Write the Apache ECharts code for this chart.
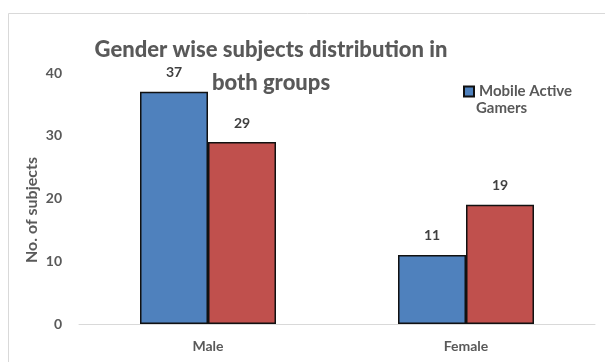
<!DOCTYPE html>
<html>
<head>
<meta charset="utf-8">
<script src="https://cdn.jsdelivr.net/npm/echarts@6/dist/echarts.min.js"></script>
<style>
  html, body { margin: 0; padding: 0; background: #fff; }
  #chart { width: 605px; height: 362px; }
</style>
</head>
<body>
<div id="chart"></div>
<script>
const categories = ['Male', 'Female'];
const gamers = [37, 11];
const nonGamers = [29, 19];
const yTicks = [0, 10, 20, 30, 40];

const chart = echarts.init(document.getElementById('chart'));
const font = 'Lato, "Open Sans", sans-serif';
const textGrey = '#595959';

chart.setOption({
  animation: false,
  backgroundColor: '#fff',
  title: {
    text: 'Gender wise subjects distribution in\nboth groups',
    left: 266,
    top: 28,
    textAlign: 'center',
    textStyle: {
      fontFamily: font,
      fontSize: 22,
      fontWeight: 900,
      color: textGrey,
      lineHeight: 33
    }
  },
  legend: {
    data: ['Mobile Active Gamers'],
    formatter: function () { return 'Mobile Active'; },
    left: 458,
    top: 79,
    itemWidth: 10,
    itemHeight: 10,
    itemGap: 4,
    icon: 'rect',
    textStyle: {
      fontFamily: font,
      fontSize: 15,
      fontWeight: 'bold',
      color: textGrey
    }
  },
  graphic: [
    {
      type: 'rect',
      shape: { x: 8.5, y: 13.5, width: 620, height: 360 },
      style: { fill: 'none', stroke: '#d9d9d9', lineWidth: 1 },
      silent: true
    },
    {
      type: 'text',
      left: 476,
      top: 101,
      style: {
        text: 'Gamers',
        fontFamily: font,
        fontSize: 15,
        fontWeight: 'bold',
        fill: textGrey
      }
    },
    {
      type: 'text',
      x: 32,
      y: 210,
      rotation: Math.PI / 2,
      style: {
        text: 'No. of subjects',
        fontFamily: font,
        fontSize: 16,
        fontWeight: 'bold',
        fill: textGrey,
        align: 'center',
        verticalAlign: 'middle'
      }
    }
  ],
  grid: { left: 79, right: 10, top: 73, bottom: 38 },
  xAxis: {
    type: 'category',
    data: categories,
    axisTick: { show: false },
    axisLine: { lineStyle: { color: '#d9d9d9', width: 1 } },
    axisLabel: {
      fontFamily: font,
      fontSize: 14,
      fontWeight: 'bold',
      color: textGrey,
      margin: 15
    }
  },
  yAxis: {
    type: 'value',
    min: yTicks[0],
    max: yTicks[yTicks.length - 1],
    interval: 10,
    splitLine: { show: false },
    axisLine: { show: false },
    axisTick: { show: false },
    axisLabel: {
      fontFamily: font,
      fontSize: 14,
      fontWeight: 'bold',
      color: textGrey,
      margin: 17
    }
  },
  series: [
    {
      name: 'Mobile Active Gamers',
      type: 'bar',
      data: gamers,
      barWidth: 68,
      barGap: '0%',
      itemStyle: { color: '#4f81bd', borderColor: '#111', borderWidth: 1.5 },
      label: {
        show: true,
        position: 'top',
        distance: 12,
        fontFamily: font,
        fontSize: 14,
        fontWeight: 'bold',
        color: '#404040'
      }
    },
    {
      name: 'Non Gamers',
      type: 'bar',
      data: nonGamers,
      barWidth: 68,
      barGap: '0%',
      itemStyle: { color: '#c0504d', borderColor: '#111', borderWidth: 1.5 },
      label: {
        show: true,
        position: 'top',
        distance: 12,
        fontFamily: font,
        fontSize: 14,
        fontWeight: 'bold',
        color: '#404040'
      }
    }
  ]
});
</script>
</body>
</html>
